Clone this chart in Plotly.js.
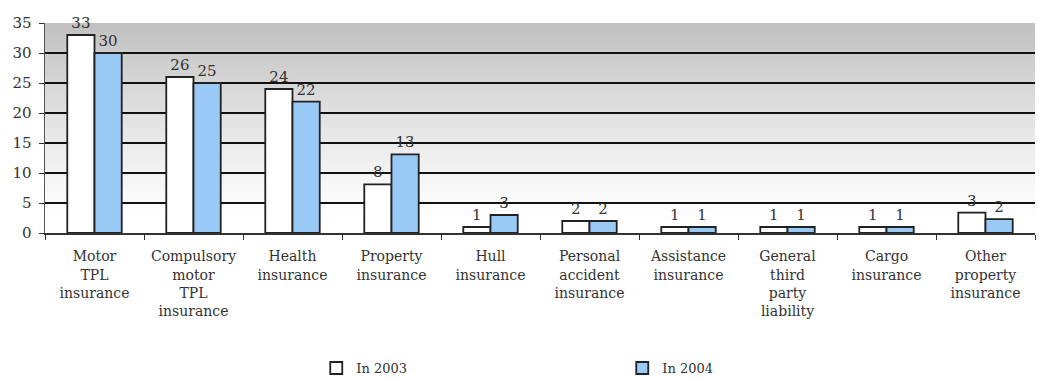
<!DOCTYPE html>
<html>
<head>
<meta charset="utf-8">
<script src="https://cdn.plot.ly/plotly-3.0.1.min.js"></script>
<style>html,body{margin:0;padding:0;background:#fff;}#chart{width:1039px;height:380px;}</style>
</head>
<body>
<div id="chart"></div>
<script>
const categories = [
  "Motor<br>TPL<br>insurance",
  "Compulsory<br>motor<br>TPL<br>insurance",
  "Health<br>insurance",
  "Property<br>insurance",
  "Hull<br>insurance",
  "Personal<br>accident<br>insurance",
  "Assistance<br>insurance",
  "General<br>third<br>party<br>liability",
  "Cargo<br>insurance",
  "Other<br>property<br>insurance"
];
const values2003 = [33, 26, 24, 8.1, 1, 2, 1, 1, 1, 3.4];
const values2004 = [30, 25, 21.9, 13.1, 3, 2, 1, 1, 1, 2.3];
const labels2003 = ["33", "26", "24", "8", "1", "2", "1", "1", "1", "3"];
const labels2004 = ["30", "25", "22", "13", "3", "2", "1", "1", "1", "2"];
const yTicks = [0, 5, 10, 15, 20, 25, 30, 35];

const serif = "DejaVu Serif";

// background gradient bands (style only)
const shapes = [];
const nBands = 70;
for (let i = 0; i < nBands; i++) {
  const y0 = 35 * i / nBands, y1 = 35 * (i + 1) / nBands;
  const t = Math.max(0, ((y0 + y1) / 2 - 2) / 33);
  const v = Math.round(255 - (255 - 192) * Math.pow(t, 1.2));
  shapes.push({
    type: "rect", layer: "below", xref: "paper", yref: "y",
    x0: 0, x1: 1, y0: y0, y1: y1,
    fillcolor: `rgb(${v},${v},${v})`, line: {width: 0}
  });
}

const traces = [
  {
    type: "bar", name: "In 2003", x: categories, y: values2003,
    text: labels2003, textposition: "outside", cliponaxis: false,
    textfont: {family: serif, size: 15, color: "#333"},
    marker: {color: "#ffffff", line: {color: "#222222", width: 1.8}},
    hoverinfo: "skip"
  },
  {
    type: "bar", name: "In 2004", x: categories, y: values2004,
    text: labels2004, textposition: "outside", cliponaxis: false,
    textfont: {family: serif, size: 15, color: "#333"},
    marker: {color: "#99c9f5", line: {color: "#222222", width: 1.8}},
    hoverinfo: "skip"
  }
];

const layout = {
  width: 1039, height: 380,
  margin: {l: 45, r: 4, t: 23, b: 147, autoexpand: false},
  paper_bgcolor: "#ffffff", plot_bgcolor: "#ffffff",
  font: {family: serif},
  barmode: "group", bargap: 0.45, bargroupgap: 0,
  showlegend: true,
  legend: {
    orientation: "h", x: 0.274, xanchor: "left", y: -0.643, yanchor: "middle",
    entrywidth: 261, font: {family: serif, size: 13, color: "#333"},
    bgcolor: "rgba(0,0,0,0)"
  },
  xaxis: {
    type: "category", tickson: "boundaries", ticks: "outside", ticklen: 5,
    tickcolor: "#333", showline: true, linecolor: "#333", linewidth: 1.5,
    tickfont: {family: serif, size: 14, color: "#333"},
    ticklabelstandoff: 10, automargin: false,
    showgrid: false, fixedrange: true
  },
  yaxis: {
    range: [0, 35], tickvals: yTicks, ticktext: yTicks.map(String),
    ticks: "outside", ticklen: 5, tickcolor: "#333",
    showline: true, linecolor: "#555", linewidth: 1.5,
    showgrid: true, gridcolor: "#111", gridwidth: 1.8, zeroline: false,
    tickfont: {family: serif, size: 15, color: "#333"}, fixedrange: true,
    ticklabelstandoff: 4, automargin: false
  },
  shapes: shapes
};

Plotly.newPlot("chart", traces, layout, {displayModeBar: false, staticPlot: true});
</script>
</body>
</html>
